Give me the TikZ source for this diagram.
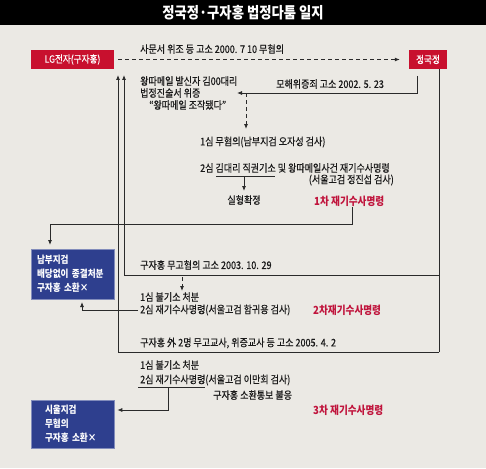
\documentclass[tikz,border=0pt]{standalone}
\usepackage{fontspec}
\setmainfont{Noto Sans CJK KR}[FakeStretch=0.86]
\newfontfamily\medfont{Noto Sans CJK KR}[FakeStretch=0.86,FakeBold=0.4]
\usetikzlibrary{arrows.meta}
\definecolor{bg}{HTML}{EBE9E4}
\definecolor{lgred}{HTML}{C8102E}
\definecolor{boxblue}{HTML}{2E3F8E}
\definecolor{redtxt}{HTML}{C0143C}
\definecolor{ln}{HTML}{2A2A2A}
\begin{document}
\begin{tikzpicture}[x=1pt,y=-1pt,
  txt/.style={anchor=west,inner sep=0pt,font=\medfont\fontsize{10.5}{12}\selectfont,text=black!90},
  redlbl/.style={anchor=west,inner sep=0pt,font=\bfseries\fontsize{11.2}{12}\selectfont,text=redtxt},
  redbox/.style={fill=lgred,text=white,minimum width=83pt,minimum height=19pt,inner sep=0pt,font=\medfont\fontsize{10}{12}\selectfont},
  bluebox/.style={fill=boxblue,draw=boxblue!60!white,line width=0.6pt,text=white,minimum width=83pt,align=left,inner sep=0pt,font=\bfseries\fontsize{10}{14}\selectfont},
  conn/.style={draw=ln,line width=0.8pt},
  arr/.style={conn,-{Latex[length=5pt,width=4pt]}},
  dsh/.style={dash pattern=on 4pt off 3pt}
]
\fill[bg] (0,0) rectangle (486,468);
\useasboundingbox (0,0) rectangle (486,468);
\node[fill=black,minimum width=486pt,minimum height=25pt,inner sep=0pt,anchor=north west] (title) at (0,0) {};
\node[text=white,inner sep=0pt,font=\bfseries\fontsize{15.5}{16}\selectfont] (titletext) at (243,13) {정국정·구자홍 법정다툼 일지};

% top boxes
\node[redbox] (lg) at (72.5,59.5) {LG전자(구자홍)};
\node[redbox,minimum width=38pt] (jkj) at (428,59.5) {정국정};
\draw[arr,dsh] ([xshift=4pt]lg.east) -- ([xshift=-9pt]jkj.west);
\node[txt] (l1) at (140,49) {사문서 위조 등 고소 2000. 7 10 무혐의};

% coordinates for frame lines
\coordinate (a1) at (118,75);
\coordinate (a2) at (124,75);
\coordinate (r0) at (439,69.5);
\coordinate (c1) at (439,275);
\coordinate (c2) at (439,352);
\coordinate (bl1) at (124,275);
\coordinate (bl2) at (118,352);
\draw[conn] (r0) -- (c2);
\draw[arr] (c2) -- (bl2) -- (a1);
\draw[arr] (c1) -- (bl1) -- (a2);

% second complaint
\coordinate (m0) at (417,76);
\coordinate (m1) at (417,93);
\coordinate (m2) at (237,93);
\draw[arr] (m0) -- (m1) -- (m2);
\node[txt] (l2) at (276,84) {모해위증죄 고소 2002. 5. 23};
\node[txt] (w1) at (140,81) {왕따메일 발신자 김00대리};
\node[txt] (w2) at (140,93) {법정진술서 위증};
\node[txt] (w3) at (149,105) {“왕따메일 조작됐다”};
\coordinate (d0) at (246,93);
\coordinate (d1) at (246,129);
\draw[arr,dsh] (d0) -- (d1);

\node[txt] (s1) at (200,142) {1심 무혐의(남부지검 오자성 검사)};
\node[txt] (s2) at (200,168) {2심 김대리 직권기소 및 왕따메일사건 재기수사명령};
\node[txt,anchor=east] (s3) at (394,180) {(서울고검 정진섭 검사)};
\coordinate (u1) at (216,176);
\coordinate (u2) at (275,176);
\draw[conn] (u1) -- (u2);
\coordinate (u3) at (244,176);
\node[txt,anchor=center] (sx) at (244,200) {실형확정};
\draw[arr] (u3) -- (sx.north |- 0,191);
\node[redlbl] (r1) at (314,201) {1차 재기수사명령};

% blue box 1
\node[bluebox,minimum height=50pt,text width=71pt,inner xsep=6pt] (b1) at (72.5,274) {남부지검\\배당없이 종결처분\\구자홍 소환×};
\coordinate (e0) at (352,207);
\coordinate (e1) at (352,224);
\coordinate (e2) at (50,224);
\coordinate (e3) at (50,245);
\draw[arr] (e0) -- (e1) -- (e2) -- (e3);

\node[txt] (k1) at (140,265) {구자홍 무고혐의 고소 2003. 10. 29};
\coordinate (f0) at (182,277);
\coordinate (f1) at (182,291);
\draw[arr,dsh] (f0) -- (f1);
\node[txt] (k2) at (140,297) {1심 불기소 처분};
\node[txt] (k3) at (140,310) {2심 재기수사명령(서울고검 함귀용 검사)};
\coordinate (g1) at (82,310);
\coordinate (g2) at (82,302);
\draw[arr] ([xshift=-2pt]k3.west) -- (g1) -- (g2);
\node[redlbl] (r2) at (313,310) {2차재기수사명령};

\node[txt] (k4) at (140,343) {구자홍 外 2명 무고교사, 위증교사 등 고소 2005. 4. 2};

% bottom part
\node[txt] (p1) at (140,365) {1심 불기소 처분};
\node[txt] (p2) at (140,380) {2심 재기수사명령(서울고검 이만희 검사)};
\coordinate (h1) at (138,387);
\coordinate (h2) at (205,387);
\draw[conn] (h1) -- (h2);
\node[txt] (p3) at (213,395) {구자홍 소환통보 불응};
\node[redlbl] (r3) at (313,410) {3차 재기수사명령};
\node[bluebox,minimum height=48pt,text width=55pt,inner xsep=14pt] (b2) at (72.5,424) {시울지검\\무혐의\\구자홍 소환×};
\coordinate (h3) at (168,387);
\coordinate (h4) at (168,410);
\draw[arr] (h3) -- (h4) -- ([xshift=3pt]b2.east |- h4);
\end{tikzpicture}
\end{document}
